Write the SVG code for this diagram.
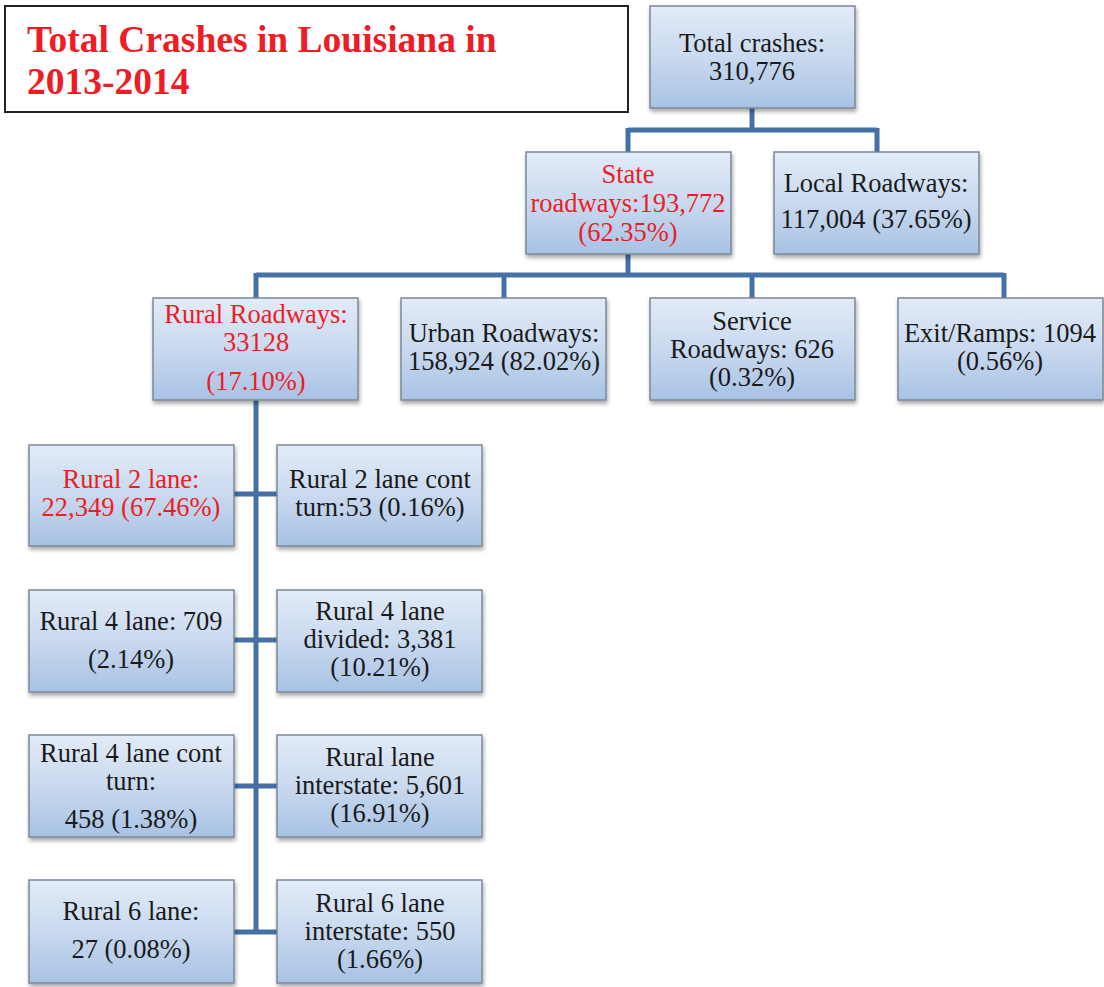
<svg xmlns="http://www.w3.org/2000/svg" width="1104" height="987" viewBox="0 0 1104 987">
<defs>
<linearGradient id="g" x1="0" y1="0" x2="0" y2="1">
<stop offset="0" stop-color="#e2ebf7"/>
<stop offset="0.5" stop-color="#c9d9ef"/>
<stop offset="1" stop-color="#a8c2e4"/>
</linearGradient>
<filter id="sh" x="-10%" y="-10%" width="125%" height="130%">
<feGaussianBlur in="SourceAlpha" stdDeviation="2"/>
<feOffset dx="1" dy="3" result="b"/>
<feComponentTransfer><feFuncA type="linear" slope="0.35"/></feComponentTransfer>
<feMerge><feMergeNode/><feMergeNode in="SourceGraphic"/></feMerge>
</filter>
</defs>
<style>
.box{fill:url(#g);stroke:#7d8896;stroke-width:1.5;filter:url(#sh)}
.t{font-family:"Liberation Serif","Times New Roman",serif;font-size:26.5px;fill:#1a1a1a;text-anchor:middle}
.r{fill:#ee1c25}
.c{fill:none;stroke:#4470a6;stroke-width:5}
.title{font-family:"Liberation Serif","Times New Roman",serif;font-size:37.5px;font-weight:bold;fill:#ee1c25}
</style>
<rect width="1104" height="987" fill="#ffffff"/>
<g id="title">
<rect x="5" y="6" width="623" height="106" fill="#ffffff" stroke="#222" stroke-width="2"/>
<text class="title" x="27" y="52">Total Crashes in Louisiana in</text>
<text class="title" x="27" y="94">2013-2014</text>
</g>
<g id="connectors">
<path class="c" d="M752 108V130M628 130H877M628 128V152M877 128V152"/>
<path class="c" d="M628 254V275M256 275H1004M256 273V298M504 273V298M752 273V298M1004 273V298"/>
<path class="c" d="M256 400V934"/>
<path class="c" d="M234 494H277M234 640H277M234 786H277M234 932H277"/>
</g>
<g id="n_total"><rect class="box" x="650" y="6" width="205" height="102"/>
<text class="t" x="752" y="52">Total crashes:</text><text class="t" x="752" y="80">310,776</text></g>
<g id="n_state"><rect class="box" x="526" y="152" width="205" height="102"/>
<text class="t r" x="628" y="183">State</text><text class="t r" x="628" y="212">roadways:193,772</text><text class="t r" x="628" y="241">(62.35%)</text></g>
<g id="n_local"><rect class="box" x="774" y="152" width="205" height="102"/>
<text class="t" x="876" y="192">Local Roadways:</text><text class="t" x="876" y="228">117,004 (37.65%)</text></g>
<g id="n_rural"><rect class="box" x="153" y="298" width="205" height="102"/>
<text class="t r" x="256" y="323">Rural Roadways:</text><text class="t r" x="256" y="351">33128</text><text class="t r" x="256" y="390">(17.10%)</text></g>
<g id="n_urban"><rect class="box" x="401" y="298" width="205" height="102"/>
<text class="t" x="504" y="342">Urban Roadways:</text><text class="t" x="504" y="370">158,924 (82.02%)</text></g>
<g id="n_service"><rect class="box" x="650" y="298" width="205" height="102"/>
<text class="t" x="752" y="330">Service</text><text class="t" x="752" y="358">Roadways: 626</text><text class="t" x="752" y="386">(0.32%)</text></g>
<g id="n_exit"><rect class="box" x="898" y="298" width="205" height="102"/>
<text class="t" x="1000" y="342">Exit/Ramps: 1094</text><text class="t" x="1000" y="370">(0.56%)</text></g>
<g id="n_r2"><rect class="box" x="29" y="445" width="205" height="101"/>
<text class="t r" x="131" y="488">Rural 2 lane:</text><text class="t r" x="131" y="516">22,349 (67.46%)</text></g>
<g id="n_r2c"><rect class="box" x="277" y="445" width="205" height="101"/>
<text class="t" x="380" y="488">Rural 2 lane cont</text><text class="t" x="380" y="516">turn:53 (0.16%)</text></g>
<g id="n_r4"><rect class="box" x="29" y="590" width="205" height="102"/>
<text class="t" x="131" y="630">Rural 4 lane: 709</text><text class="t" x="131" y="668">(2.14%)</text></g>
<g id="n_r4d"><rect class="box" x="277" y="590" width="205" height="102"/>
<text class="t" x="380" y="620">Rural 4 lane</text><text class="t" x="380" y="648">divided: 3,381</text><text class="t" x="380" y="676">(10.21%)</text></g>
<g id="n_r4c"><rect class="box" x="29" y="735" width="205" height="102"/>
<text class="t" x="131" y="762">Rural 4 lane cont</text><text class="t" x="131" y="790">turn:</text><text class="t" x="131" y="828">458 (1.38%)</text></g>
<g id="n_ri"><rect class="box" x="277" y="735" width="205" height="102"/>
<text class="t" x="380" y="766">Rural lane</text><text class="t" x="380" y="794">interstate: 5,601</text><text class="t" x="380" y="822">(16.91%)</text></g>
<g id="n_r6"><rect class="box" x="29" y="880" width="205" height="103"/>
<text class="t" x="131" y="920">Rural 6 lane:</text><text class="t" x="131" y="958">27 (0.08%)</text></g>
<g id="n_r6i"><rect class="box" x="277" y="880" width="205" height="103"/>
<text class="t" x="380" y="912">Rural 6 lane</text><text class="t" x="380" y="940">interstate: 550</text><text class="t" x="380" y="968">(1.66%)</text></g>
</svg>
